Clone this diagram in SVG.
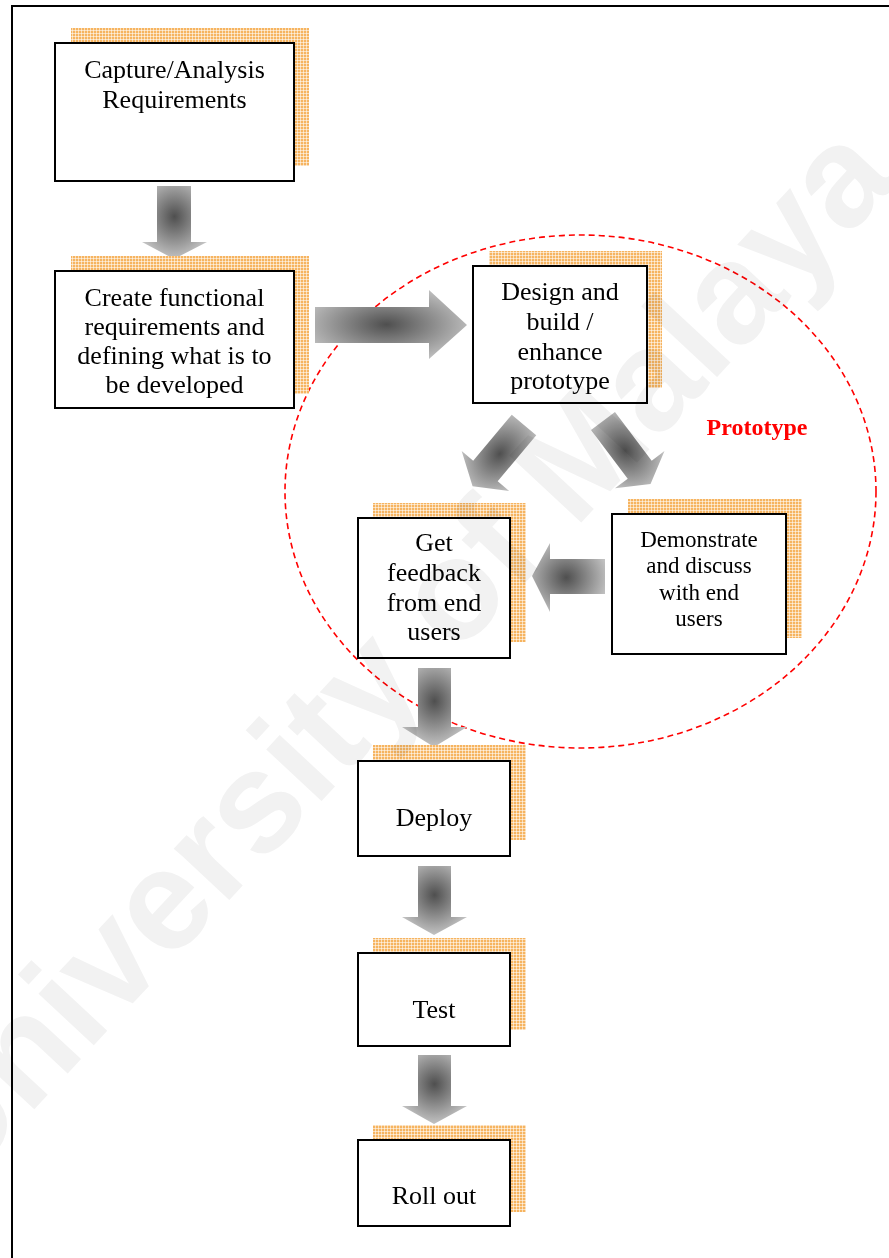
<svg xmlns="http://www.w3.org/2000/svg" width="889" height="1258" viewBox="0 0 889 1258">
  <style>
    .box { fill: #ffffff; stroke: #000000; stroke-width: 2; }
    .shadow { fill: url(#weave); }
    .lbl { font-family: "Liberation Serif", "Times New Roman", serif; font-size: 26px; fill: #000000; text-anchor: middle; }
    .small { font-size: 23px; }
    .arrV { fill: url(#shadeV); }
    .arrH { fill: url(#shadeH); }
  </style>
  <defs>
    <!-- orange woven texture used for the offset box shadows -->
    <pattern id="weave" patternUnits="userSpaceOnUse" width="3" height="3">
      <rect width="3" height="3" fill="#f6b460"/>
      <rect width="3" height="1" fill="#ffffff" opacity="0.55"/>
      <rect width="1" height="3" fill="#ffffff" opacity="0.55"/>
    </pattern>
    <radialGradient id="shadeV" cx="0.5" cy="0.42" r="0.6">
      <stop offset="0" stop-color="#4f4f4f"/>
      <stop offset="1" stop-color="#c6c6c6"/>
    </radialGradient>
    <radialGradient id="shadeH" cx="0.47" cy="0.5" r="0.6">
      <stop offset="0" stop-color="#4f4f4f"/>
      <stop offset="1" stop-color="#c6c6c6"/>
    </radialGradient>
  </defs>

  <rect width="889" height="1258" fill="#ffffff"/>
  <!-- page frame -->
  <rect x="12" y="6" width="900" height="1300" fill="none" stroke="#000000" stroke-width="2"/>

  <!-- prototype loop boundary -->
  <g id="prototype-zone">
    <ellipse cx="580.5" cy="491.5" rx="295.5" ry="256.5" fill="none" stroke="#ff0000" stroke-width="1.6" stroke-dasharray="6 4"/>
    <text x="757" y="435" font-family="Liberation Serif, Times New Roman, serif" font-size="24" font-weight="bold" fill="#ff0000" text-anchor="middle">Prototype</text>
  </g>

  <!-- block arrows -->
  <g id="connectors">
    <polygon class="arrV" points="157,186 191,186 191,242 207,242 174,259 142,242 157,242"/>
    <polygon class="arrH" points="315,307 429,307 429,290 467,325 429,359 429,343 315,343"/>
    <polygon class="arrH" transform="translate(524,425) rotate(130)" points="0,-16 60,-16 60,-31 80,0 60,31 60,16 0,16"/>
    <polygon class="arrH" transform="translate(603,421) rotate(53)" points="0,-15 61,-15 61,-31 79,0 61,31 61,15 0,15"/>
    <polygon class="arrH" points="605,559 550,559 550,543 532,576 550,612 550,594 605,594"/>
    <polygon class="arrV" points="418,668 451,668 451,727 467,727 434,747 402,727 418,727"/>
    <polygon class="arrV" points="418,866 451,866 451,917 467,917 434,935 402,917 418,917"/>
    <polygon class="arrV" points="418,1055 451,1055 451,1106 467,1106 434,1124 402,1106 418,1106"/>
  </g>

  <g id="capture">
    <rect class="shadow" x="71" y="28" width="238" height="138"/>
    <rect class="box" x="55" y="43" width="239" height="138"/>
    <text class="lbl" x="174.5" y="78">Capture/Analysis</text>
    <text class="lbl" x="174.5" y="108">Requirements</text>
  </g>

  <g id="functional">
    <rect class="shadow" x="71" y="256" width="238" height="138"/>
    <rect class="box" x="55" y="271" width="239" height="137"/>
    <text class="lbl" x="174.5" y="306">Create functional</text>
    <text class="lbl" x="174.5" y="335">requirements and</text>
    <text class="lbl" x="174.5" y="364">defining what is to</text>
    <text class="lbl" x="174.5" y="393">be developed</text>
  </g>

  <g id="design">
    <rect class="shadow" x="489" y="251" width="173" height="137"/>
    <rect class="box" x="473" y="266" width="174" height="137"/>
    <text class="lbl" x="560" y="300">Design and</text>
    <text class="lbl" x="560" y="330">build /</text>
    <text class="lbl" x="560" y="360">enhance</text>
    <text class="lbl" x="560" y="389">prototype</text>
  </g>

  <g id="feedback">
    <rect class="shadow" x="373" y="503" width="153" height="139"/>
    <rect class="box" x="358" y="518" width="152" height="140"/>
    <text class="lbl" x="434" y="551">Get</text>
    <text class="lbl" x="434" y="581">feedback</text>
    <text class="lbl" x="434" y="611">from end</text>
    <text class="lbl" x="434" y="640">users</text>
  </g>

  <g id="demonstrate">
    <rect class="shadow" x="628" y="499" width="174" height="139"/>
    <rect class="box" x="612" y="514" width="174" height="140"/>
    <text class="lbl small" x="699" y="547">Demonstrate</text>
    <text class="lbl small" x="699" y="573">and discuss</text>
    <text class="lbl small" x="699" y="600">with end</text>
    <text class="lbl small" x="699" y="626">users</text>
  </g>

  <g id="deploy">
    <rect class="shadow" x="373" y="745" width="153" height="95"/>
    <rect class="box" x="358" y="761" width="152" height="95"/>
    <text class="lbl" x="434" y="826">Deploy</text>
  </g>

  <g id="test">
    <rect class="shadow" x="373" y="938" width="153" height="92"/>
    <rect class="box" x="358" y="953" width="152" height="93"/>
    <text class="lbl" x="434" y="1018">Test</text>
  </g>

  <g id="rollout">
    <rect class="shadow" x="373" y="1125" width="153" height="87"/>
    <rect class="box" x="358" y="1140" width="152" height="86"/>
    <text class="lbl" x="434" y="1204">Roll out</text>
  </g>

  <!-- institutional watermark across the page -->
  <g id="watermark" style="mix-blend-mode: multiply">
    <text transform="translate(-43,1192) rotate(-47)" x="0" y="0" font-family="Liberation Sans, Arial, sans-serif" font-size="143" font-weight="bold" fill="#f2f2f2">University of Malaya</text>
  </g>
</svg>
